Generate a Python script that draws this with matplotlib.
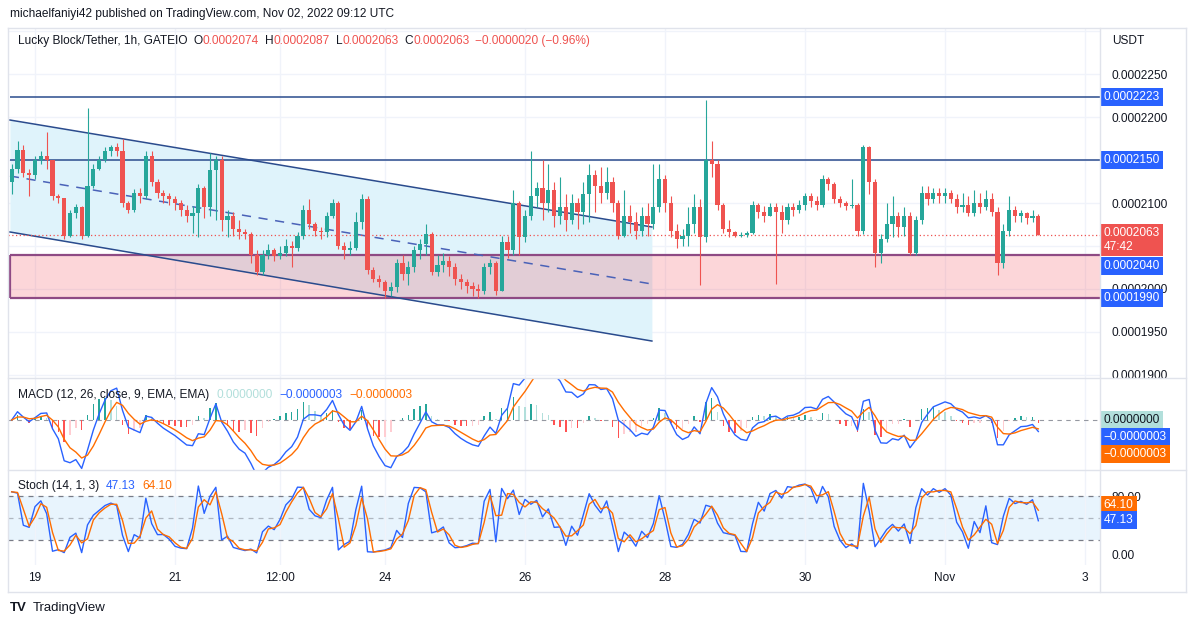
import numpy as np
import pandas as pd
import matplotlib
matplotlib.use("Agg")
import matplotlib.pyplot as plt
import matplotlib.transforms as mtransforms
from matplotlib.patches import Rectangle
from matplotlib.lines import Line2D

plt.rcParams["font.family"] = ["Liberation Sans", "DejaVu Sans"]

# prices in units of 1e-7 USDT (2063 -> 0.0002063), one candle per 2 hours,
# read off the hourly chart; time is hours from Oct 19 00:00 UTC
START_HOUR = -8
BAR_HOURS = 2
first_open = 2125
closes = [
    2140, 2162, 2135, 2132, 2150, 2155, 2150, 2108, 2106, 2062, 2088, 2095,
    2062, 2120, 2140, 2150, 2160, 2165, 2160, 2100, 2092, 2112, 2108, 2155,
    2125, 2112, 2108, 2105, 2100, 2092, 2085, 2088, 2118, 2095, 2138, 2150,
    2080, 2085, 2070, 2066, 2064, 2040, 2020, 2040, 2045, 2038, 2042, 2050,
    2048, 2062, 2092, 2075, 2068, 2066, 2085, 2100, 2050, 2045, 2048, 2078,
    2105, 2022, 2012, 2008, 1998, 2002, 2030, 2018, 2025, 2045, 2052, 2064,
    2020, 2028, 2032, 2025, 2012, 2008, 2004, 2000, 1998, 2025, 2030, 1998,
    2055, 2045, 2100, 2060, 2085, 2108, 2118, 2100, 2115, 2085, 2095, 2080,
    2100, 2090, 2110, 2132, 2120, 2112, 2125, 2100, 2062, 2085, 2078, 2068,
    2085, 2075, 2095, 2128, 2100, 2068, 2058, 2062, 2075, 2095, 2060, 2150,
    2145, 2098, 2070, 2066, 2062, 2063, 2065, 2098, 2090, 2085, 2095, 2090,
    2080, 2095, 2092, 2098, 2108, 2102, 2098, 2128, 2122, 2105, 2100, 2096,
    2098, 2068, 2165, 2125, 2042, 2058, 2075, 2085, 2072, 2085, 2042, 2080,
    2112, 2105, 2112, 2108, 2112, 2105, 2095, 2098, 2088, 2100, 2095, 2105,
    2090, 2030, 2068, 2092, 2085, 2088, 2082, 2085, 2063,
]
highs = [
    2145, 2172, 2168, 2140, 2155, 2160, 2183, 2150, 2110, 2106, 2092, 2099,
    2097, 2210, 2145, 2155, 2165, 2168, 2170, 2175, 2102, 2116, 2118, 2160,
    2160, 2128, 2115, 2112, 2108, 2104, 2098, 2096, 2122, 2120, 2158, 2155,
    2155, 2092, 2090, 2080, 2070, 2066, 2045, 2045, 2052, 2048, 2050, 2058,
    2056, 2066, 2098, 2105, 2078, 2072, 2090, 2105, 2102, 2055, 2056, 2090,
    2110, 2108, 2025, 2016, 2010, 2008, 2035, 2040, 2032, 2050, 2058, 2076,
    2066, 2040, 2042, 2038, 2030, 2018, 2012, 2008, 2006, 2030, 2035, 2032,
    2062, 2062, 2115, 2102, 2092, 2160, 2125, 2150, 2145, 2125, 2130, 2110,
    2110, 2106, 2125, 2145, 2138, 2142, 2142, 2130, 2104, 2115, 2098, 2090,
    2095, 2100, 2145, 2145, 2132, 2108, 2075, 2070, 2095, 2110, 2105, 2220,
    2172, 2150, 2100, 2080, 2068, 2066, 2068, 2102, 2100, 2096, 2100, 2100,
    2098, 2100, 2100, 2103, 2112, 2112, 2108, 2132, 2130, 2124, 2108, 2102,
    2128, 2100, 2168, 2166, 2128, 2064, 2100, 2108, 2090, 2095, 2090, 2085,
    2120, 2120, 2118, 2118, 2118, 2115, 2110, 2112, 2108, 2115, 2112, 2115,
    2112, 2095, 2075, 2108, 2096, 2092, 2090, 2092, 2087,
]
lows = [
    2110, 2135, 2130, 2108, 2128, 2145, 2140, 2104, 2100, 2058, 2060, 2082,
    2058, 2060, 2118, 2138, 2148, 2155, 2155, 2095, 2088, 2090, 2100, 2105,
    2120, 2106, 2100, 2098, 2092, 2085, 2078, 2065, 2060, 2082, 2085, 2080,
    2068, 2060, 2062, 2058, 2058, 2030, 2016, 2016, 2035, 2032, 2035, 2038,
    2026, 2044, 2058, 2070, 2062, 2058, 2060, 2082, 2046, 2035, 2040, 2045,
    2070, 2018, 2008, 2002, 1990, 1992, 1996, 2010, 2005, 2020, 2035, 2040,
    2016, 2015, 2020, 2015, 2005, 2000, 1995, 1992, 1990, 1994, 2018, 1993,
    1998, 2036, 2040, 2040, 2055, 2080, 2095, 2080, 2090, 2072, 2075, 2068,
    2075, 2070, 2076, 2078, 2090, 2100, 2105, 2090, 2058, 2060, 2065, 2058,
    2062, 2062, 2070, 2090, 2090, 2060, 2048, 2050, 2050, 2065, 2005, 2055,
    2130, 2092, 2065, 2060, 2060, 2060, 2061, 2064, 2082, 2078, 2085, 2006,
    2065, 2075, 2085, 2088, 2092, 2095, 2092, 2095, 2115, 2100, 2095, 2092,
    2094, 2062, 2064, 2110, 2026, 2030, 2055, 2060, 2060, 2062, 2040, 2040,
    2075, 2098, 2100, 2100, 2100, 2100, 2088, 2090, 2085, 2085, 2088, 2092,
    2085, 2016, 2024, 2062, 2078, 2078, 2076, 2078, 2063,
]

# last hourly bar shown in the legend
last_ohlc = [2074, 2087, 2063, 2063]
last_change, last_change_pct = -20, -0.96
countdown = "47:42"

# drawings: support/resistance levels and the descending channel
resistance_levels = [2223, 2150]
zone_bottom, zone_top = 1990, 2040
chan_t = [-8.6, 211.5]
chan_upper = [2196.5, 2072.1]
chan_mid = [2131.4, 2005.8]
chan_lower = [2066.3, 1939.5]

# legend values of the indicators as printed on the chart
macd_legend = ["0.0000000", "\u22120.0000003", "\u22120.0000003"]
stoch_k_last, stoch_d_last = 47.13, 64.10

day_ticks = [0, 48, 84, 120, 168, 216, 264, 312, 360]
day_labels = ["19", "21", "12:00", "24", "26", "28", "30", "Nov", "3"]
price_ticks = [1900, 1950, 2000, 2100, 2200, 2250]

UP, DOWN = "#26a69a", "#ef5350"
BLUE, ORANGE = "#2962ff", "#ff6d00"
TEXT, GRID, FRAME = "#131722", "#f0f3fa", "#e0e3eb"
NAVY, ZONE_EDGE = "#2a4b8d", "#8e4a84"
FS = 8.6


def fmt(v):
    return f"0.000{int(v):04d}"


C = np.array(closes, float)
Hh = np.array(highs, float)
Ll = np.array(lows, float)
O = np.r_[first_open, C[:-1]]
Hh = np.maximum(Hh, np.maximum(O, C))
Ll = np.minimum(Ll, np.minimum(O, C))
t = START_HOUR + BAR_HOURS * np.arange(len(C))

# indicators (periods converted from 1h to 2h bars)
cs = pd.Series(C)
macd = cs.ewm(span=6, adjust=False).mean() - cs.ewm(span=13, adjust=False).mean()
signal = macd.ewm(span=4.5, adjust=False).mean()
hist = macd - signal
lo_n = pd.Series(Ll).rolling(7, min_periods=1).min()
hi_n = pd.Series(Hh).rolling(7, min_periods=1).max()
stoch_k = 100 * (cs - lo_n) / (hi_n - lo_n)
stoch_d = stoch_k.rolling(2, min_periods=1).mean()

W, H = 1194, 627
fig = plt.figure(figsize=(W / 100, H / 100), dpi=100)
renderer = fig.canvas.get_renderer()


def fx(x):
    return x / W


def fy(y):
    return 1 - y / H


def text_row(parts, x, y, size=FS):
    """Draw (text, colour, gap_after_px) pieces one after another."""
    for s, cl, gap in parts:
        tx = fig.text(fx(x), fy(y), s, fontsize=size, color=cl, va="center")
        x = tx.get_window_extent(renderer).x1 + gap


LEFT, RIGHT = 8, 1100
ax_p = fig.add_axes([fx(LEFT), fy(378), fx(RIGHT - LEFT), 350 / H])
ax_m = fig.add_axes([fx(LEFT), fy(470), fx(RIGHT - LEFT), 92 / H])
ax_s = fig.add_axes([fx(LEFT), fy(565), fx(RIGHT - LEFT), 95 / H])

XMIN, XMAX = -9.26, 365.14
for ax in (ax_p, ax_m, ax_s):
    ax.set_xlim(XMIN, XMAX)
    for s in ax.spines.values():
        s.set_visible(False)
    ax.set_xticks(day_ticks)
    ax.grid(axis="x", color=GRID, lw=1)
    ax.tick_params(axis="x", length=0, labelbottom=False)
    ax.tick_params(axis="y", length=0, labelsize=FS, labelcolor=TEXT, pad=8.5)
    ax.yaxis.tick_right()
    ax.set_axisbelow(True)

# ---- price pane
ax_p.set_ylim(1896.5, 2303.5)
grid_levels = list(range(1900, 2301, 50))
ax_p.set_yticks(grid_levels)
ax_p.set_yticklabels([fmt(v) if v in price_ticks else "" for v in grid_levels])
ax_p.grid(axis="y", color=GRID, lw=1)

ax_p.fill_between(chan_t, chan_lower, chan_upper, color="#dff3fb", lw=0, zorder=1)
ax_p.add_patch(Rectangle((chan_t[0], zone_bottom), XMAX - chan_t[0] + 5,
                         zone_top - zone_bottom, fc=(242/255, 54/255, 69/255, 0.2),
                         ec="none", zorder=2))
ax_p.hlines([zone_bottom, zone_top], chan_t[0], XMAX, colors=ZONE_EDGE, lw=1.6, zorder=3)
ax_p.vlines(chan_t[0], zone_bottom, zone_top, colors=ZONE_EDGE, lw=1.6, zorder=3)
ax_p.plot(chan_t, chan_upper, color=NAVY, lw=1.1, zorder=3)
ax_p.plot(chan_t, chan_lower, color=NAVY, lw=1.1, zorder=3)
ax_p.plot(chan_t, chan_mid, color="#4a62b8", lw=1.1, ls=(0, (6, 5)), zorder=3)
ax_p.hlines(resistance_levels, chan_t[0], XMAX, colors=NAVY, lw=1.1, zorder=3)
ax_p.axhline(C[-1], color=DOWN, lw=0.9, ls=(0, (1, 2)), zorder=3)

up = C >= O
col = np.where(up, UP, DOWN)
ax_p.vlines(t, Ll, Hh, colors=col, lw=0.8, zorder=4)
body = np.maximum(np.abs(C - O), 0.8)
ax_p.bar(t, body, bottom=np.minimum(O, C), width=1.45, color=col, lw=0, zorder=5)

ytr_p = mtransforms.blended_transform_factory(ax_p.transAxes, ax_p.transData)


def axis_box(ax, tr, y, s, fc, tc="white"):
    ax.text(1.0035, y, s, transform=tr, ha="left", va="center", fontsize=FS,
            color=tc, clip_on=False, zorder=10,
            bbox=dict(boxstyle="square,pad=0.25", fc=fc, ec="none"))


for lv in resistance_levels:
    axis_box(ax_p, ytr_p, lv, fmt(lv), BLUE)
axis_box(ax_p, ytr_p, zone_top - 13, fmt(zone_top), BLUE)
axis_box(ax_p, ytr_p, zone_bottom, fmt(zone_bottom), BLUE)
axis_box(ax_p, ytr_p, C[-1] - 6, fmt(C[-1]) + "\n" + countdown, DOWN)

# ---- MACD pane
MK = 0.38
ax_m.set_ylim(-50 * MK, 42 * MK)
ax_m.set_yticks([])
ax_m.axhline(0, color="#9598a1", lw=0.8, ls=(0, (4, 4)), zorder=1)
dh = hist.diff().fillna(0)
hcol = np.where(hist >= 0, np.where(dh >= 0, "#26a69a", "#b2dfdb"),
                np.where(dh < 0, "#ff5252", "#ffcdd2"))
ax_m.bar(t, hist, width=0.55, color=hcol, lw=0, zorder=2)
ax_m.plot(t, macd, color=BLUE, lw=1, zorder=3)
ax_m.plot(t, signal, color=ORANGE, lw=1, zorder=3)
for frac, s, fc, tc in [(0.543, macd_legend[0], "#b2dfdb", TEXT),
                        (0.359, macd_legend[1], BLUE, "white"),
                        (0.174, macd_legend[2], ORANGE, "white")]:
    axis_box(ax_m, ax_m.transAxes, frac, s, fc, tc)

# ---- Stoch pane
ax_s.set_ylim(-13.6, 115.3)
ax_s.set_yticks([0, 80])
ax_s.set_yticklabels(["0.00", "80.00"])
ax_s.axhspan(20, 80, color=(33/255, 150/255, 243/255, 0.1), lw=0, zorder=0)
for lv, a in [(80, 1), (50, 0.5), (20, 1)]:
    ax_s.axhline(lv, color="#787b86", lw=0.9, ls=(0, (4, 4)), alpha=a, zorder=1)
ax_s.plot(t, stoch_k, color=BLUE, lw=1, zorder=3)
ax_s.plot(t, stoch_d, color=ORANGE, lw=1, zorder=3)
ytr_s = mtransforms.blended_transform_factory(ax_s.transAxes, ax_s.transData)
axis_box(ax_s, ytr_s, stoch_d_last + 4, f"{stoch_d_last:.2f}", ORANGE)
axis_box(ax_s, ytr_s, stoch_k_last, f"{stoch_k_last:.2f}", BLUE)
ax_s.tick_params(axis="x", labelbottom=True, labelsize=FS, labelcolor=TEXT, pad=5)
ax_s.set_xticklabels(day_labels)

# ---- texts
fig.text(fx(10), fy(14), "michaelfaniyi42 published on TradingView.com, Nov 02, 2022 09:12 UTC",
         fontsize=FS, color=TEXT, va="center")
fig.text(fx(1112), fy(41), "USDT", fontsize=FS, color=TEXT, va="center")

o, h, l, c = last_ohlc
chg = f"\u22120.00000{abs(last_change):02d} (\u2212{abs(last_change_pct):.2f}%)"
text_row([("Lucky Block/Tether, 1h, GATEIO", TEXT, 6), ("O", TEXT, 0), (fmt(o), DOWN, 6),
          ("H", TEXT, 0), (fmt(h), DOWN, 6), ("L", TEXT, 0), (fmt(l), DOWN, 6),
          ("C", TEXT, 0), (fmt(c), DOWN, 6), (chg, DOWN, 0)], 18, 41)
text_row([("MACD (12, 26, close, 9, EMA, EMA)", TEXT, 7), (macd_legend[0], "#b2dfdb", 7),
          (macd_legend[1], BLUE, 7), (macd_legend[2], ORANGE, 0)], 18, 395)
text_row([("Stoch (14, 1, 3)", TEXT, 6), (f"{stoch_k_last:.2f}", BLUE, 7),
          (f"{stoch_d_last:.2f}", ORANGE, 0)], 18, 486)

fig.text(fx(10), fy(608), "TV", fontsize=9.5, weight="heavy", color=TEXT, va="center")
fig.text(fx(33), fy(608), "TradingView", fontsize=9.5, color=TEXT, va="center")

# ---- frame and pane separators
for x0, y0, x1, y1 in [(8, 28, 1186, 28), (8, 378, 1186, 378), (8, 470, 1186, 470),
                       (8, 592, 1186, 592), (8, 28, 8, 592), (1186, 28, 1186, 592),
                       (1100, 28, 1100, 592)]:
    fig.add_artist(Line2D([fx(x0), fx(x1)], [fy(y0), fy(y1)], color=FRAME, lw=1))

fig.savefig("out.png", dpi=100)
